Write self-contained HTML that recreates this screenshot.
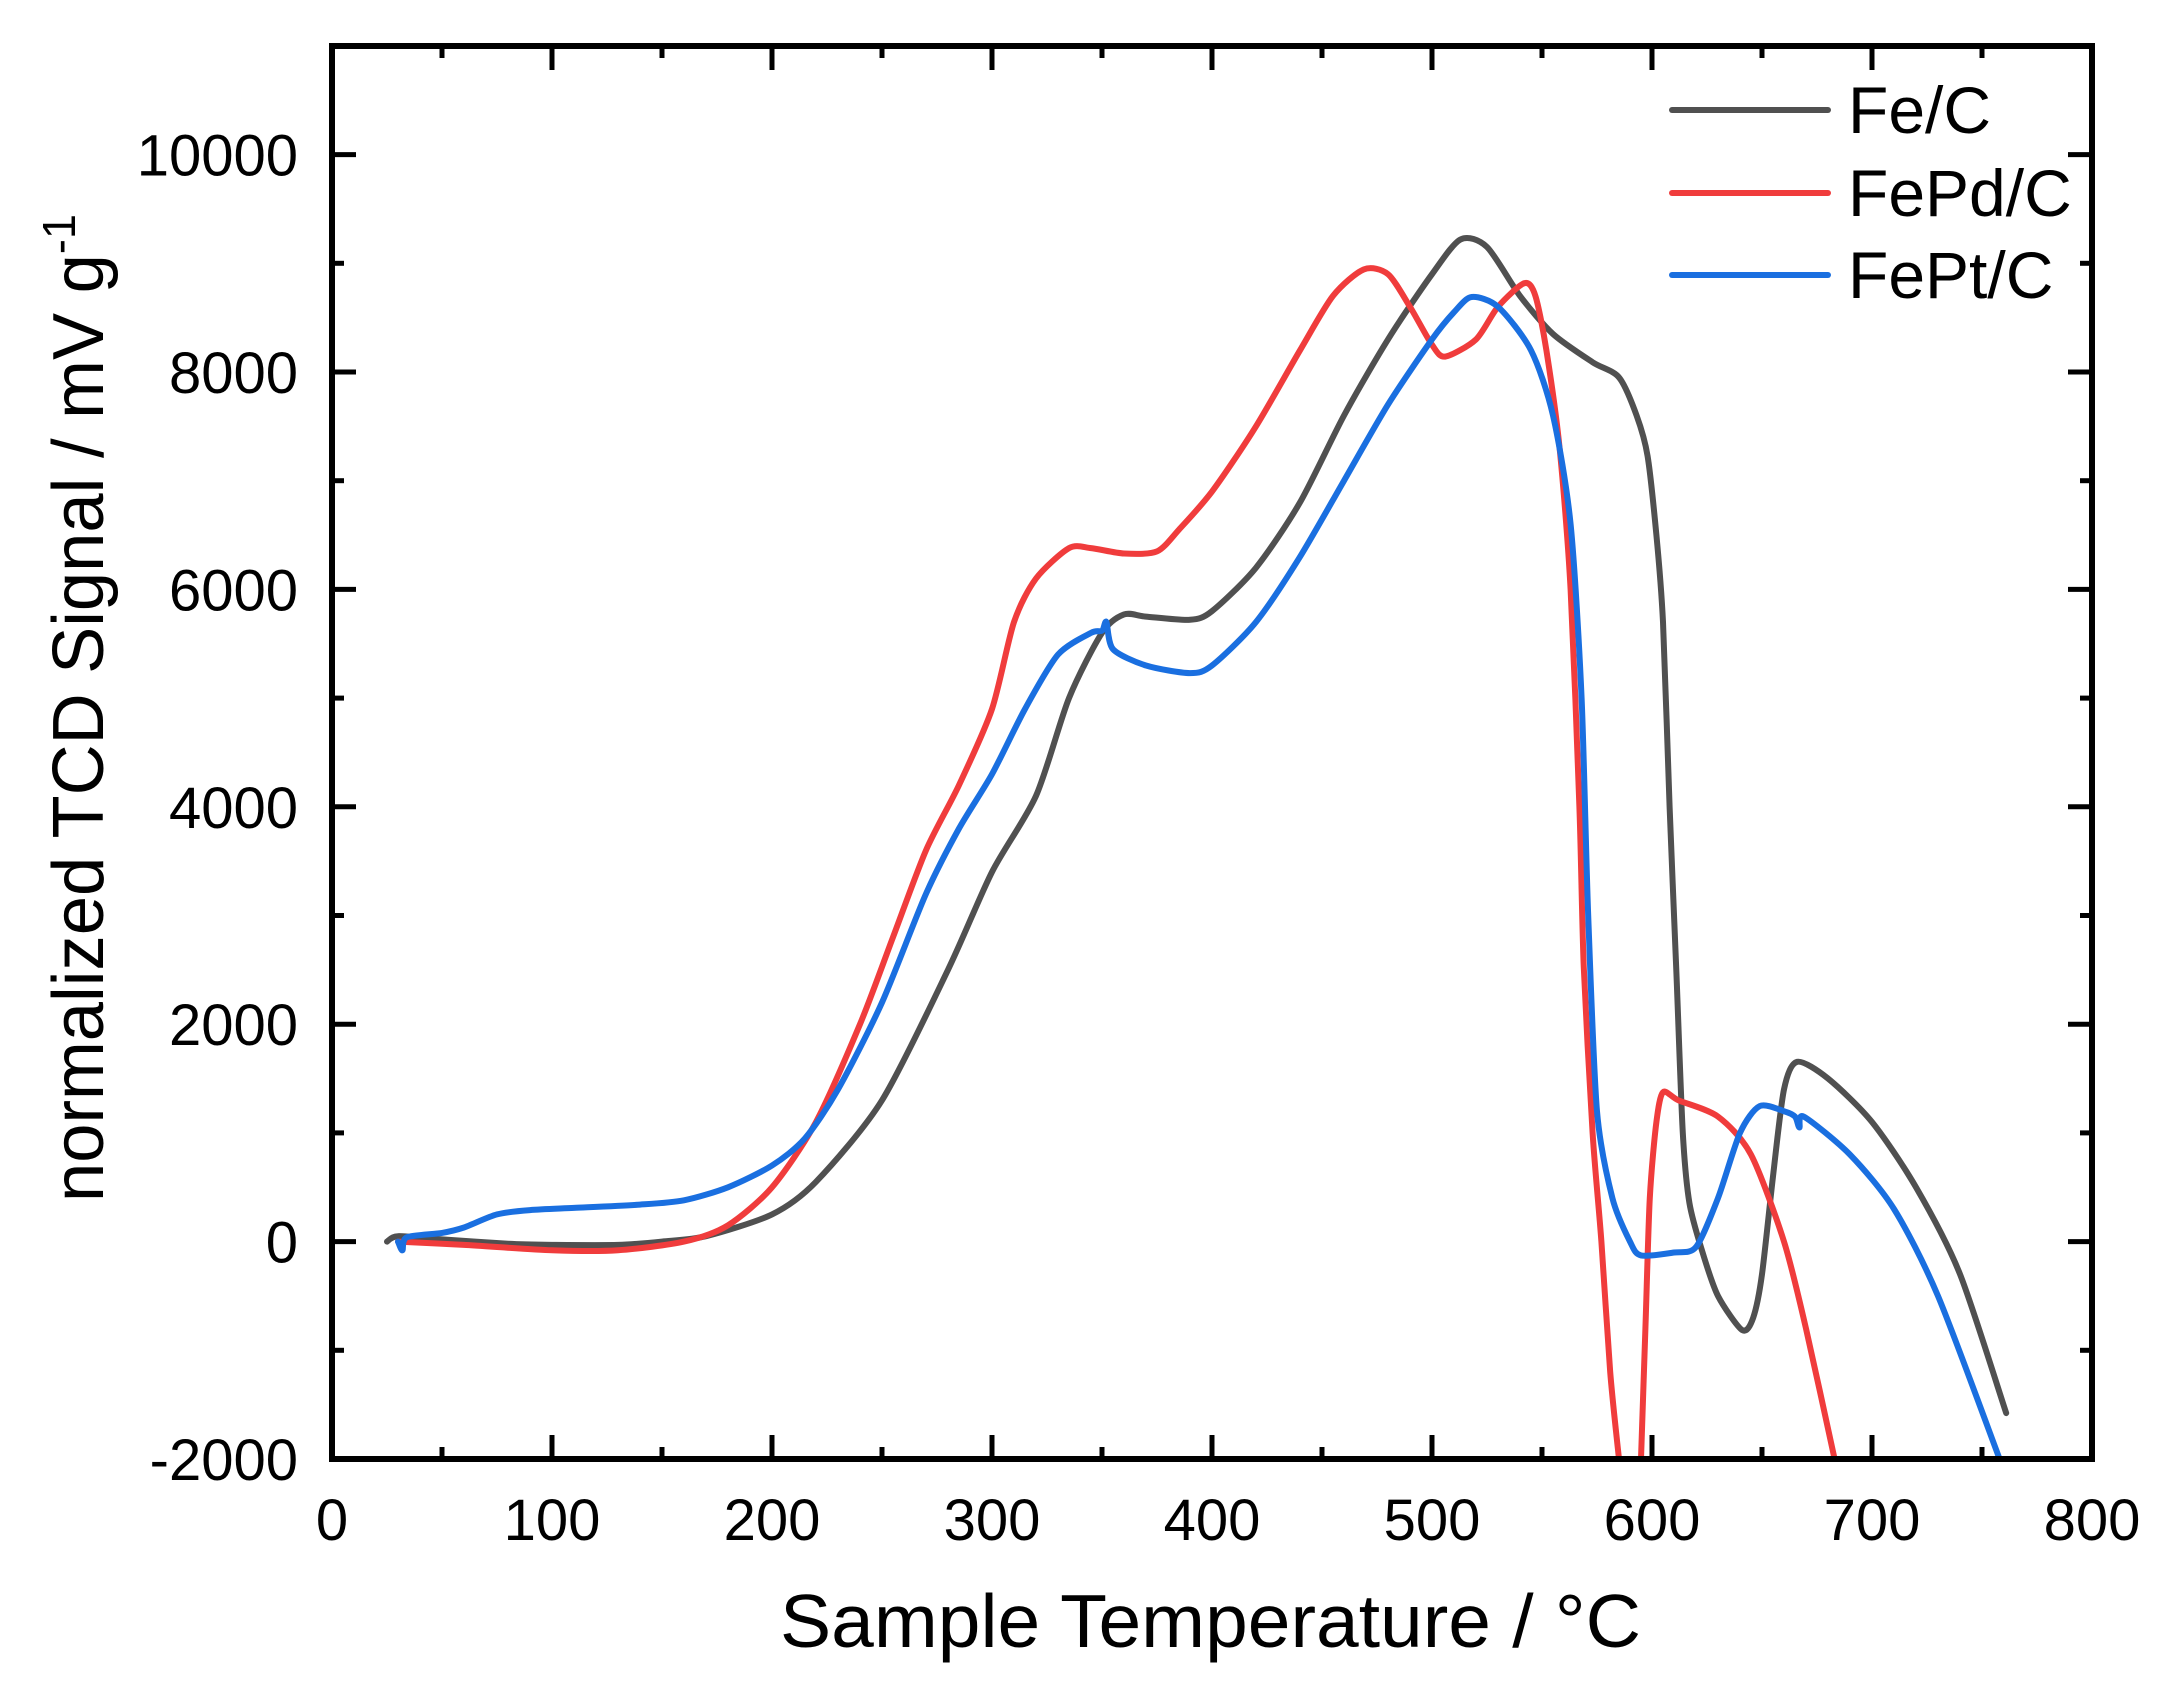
<!DOCTYPE html>
<html><head><meta charset="utf-8"><style>
html,body{margin:0;padding:0;background:#fff;}
svg{display:block;font-family:"Liberation Sans",Arial,sans-serif;}
</style></head><body>
<svg id="s" width="2168" height="1691" viewBox="0 0 2168 1691" xmlns="http://www.w3.org/2000/svg">
<rect width="2168" height="1691" fill="#fff"/>
<g id="curves" fill="none" stroke-width="6" stroke-linejoin="round" stroke-linecap="round"></g>
<g id="ticks" stroke="#000" stroke-width="5"></g>
<rect x="332" y="46" width="1760" height="1413" fill="none" stroke="#000" stroke-width="6"/>
<g id="labels" font-size="58" fill="#000"></g>
<text x="780" y="1647" font-size="75" textLength="861" lengthAdjust="spacingAndGlyphs">Sample Temperature  /  °C</text>
<text transform="translate(103,1202) rotate(-90)" font-size="72" textLength="988" lengthAdjust="spacingAndGlyphs">normalized TCD Signal  /  mV g<tspan dy="-28" font-size="46">-1</tspan></text>
<g stroke-width="6" stroke-linecap="round">
<line x1="1672" y1="110" x2="1828" y2="110" stroke="#505050"/>
<line x1="1672" y1="193" x2="1828" y2="193" stroke="#f03c3c"/>
<line x1="1672" y1="275" x2="1828" y2="275" stroke="#1a6fe0"/>
</g>
<g font-size="66" fill="#000">
<text x="1848" y="133">Fe/C</text>
<text x="1848" y="216">FePd/C</text>
<text x="1848" y="298">FePt/C</text>
</g>
</svg>
<script>
const X=t=>332+2.2*t, Y=v=>1459-(v+2000)*0.1087;
const NS="http://www.w3.org/2000/svg";
const tk=document.getElementById("ticks"), lb=document.getElementById("labels");
function ln(x1,y1,x2,y2){const l=document.createElementNS(NS,"line");l.setAttribute("x1",x1);l.setAttribute("y1",y1);l.setAttribute("x2",x2);l.setAttribute("y2",y2);tk.appendChild(l);}
function tx(x,y,s,a){const t=document.createElementNS(NS,"text");t.setAttribute("x",x);t.setAttribute("y",y);t.setAttribute("text-anchor",a);t.textContent=s;lb.appendChild(t);}
for(let t=0;t<=800;t+=50){const x=X(t),L=(t%100==0)?24:12;ln(x,1459,x,1459-L);ln(x,46,x,46+L);if(t%100==0)tx(x,1540,String(t),"middle");}
for(let v=-2000;v<=11000;v+=1000){const y=Y(v),L=(v%2000==0)?24:12;ln(332,y,332+L,y);ln(2092,y,2092-L,y);if(v%2000==0&&v<=10000)tx(298,y+21,String(v),"end");}
const fe=[[25,0],[30,50],[50,20],[80,-20],[100,-30],[130,-30],[150,0],[170,50],[200,250],[220,550],[250,1300],[280,2500],[300,3400],[320,4100],[335,5000],[350,5600],[360,5770],[370,5750],[390,5720],[400,5800],[420,6200],[440,6800],[460,7600],[480,8300],[500,8900],[513,9220],[525,9150],[540,8700],[555,8350],[573,8090],[585,7950],[593,7600],[598,7226],[602,6500],[605,5700],[608,4000],[611,2519],[614,1000],[617,356],[623,-100],[630,-500],[641,-814],[646,-700],[650,-300],[655,600],[660,1400],[666,1654],[680,1500],[700,1100],[720,500],[740,-300],[761,-1578]];
const pd=[[30,0],[60,-30],[100,-80],[130,-80],[160,0],[180,150],[200,500],[220,1100],[240,2000],[255,2800],[270,3600],[285,4200],[300,4900],[310,5700],[320,6100],[335,6380],[345,6380],[360,6330],[375,6350],[385,6550],[400,6900],[420,7500],[440,8200],[455,8700],[469,8944],[480,8900],[490,8600],[500,8250],[506,8142],[520,8300],[530,8600],[542,8817],[547,8700],[552,8200],[558,7300],[563,6000],[567,4000],[569,2519],[573,1000],[577,0],[581,-1200],[585,-2000]];
const pd2=[[595,-2000],[597,-800],[599,400],[602,1100],[605,1374],[612,1300],[630,1150],[645,800],[660,0],[670,-800],[683,-2000]];
const pt=[[30,0],[32,-80],[34,40],[50,80],[60,130],[75,250],[90,290],[110,310],[140,340],[160,380],[180,500],[200,700],[215,950],[230,1400],[250,2200],[270,3200],[285,3800],[300,4300],[315,4900],[330,5400],[345,5600],[350,5620],[352,5700],[355,5450],[370,5300],[390,5230],[400,5300],[420,5700],[440,6300],[460,7000],[480,7700],[500,8300],[510,8550],[518,8690],[530,8600],[545,8200],[555,7600],[563,6600],[568,5000],[571,3000],[575,1200],[582,400],[590,0],[595,-127],[610,-100],[620,-50],[630,400],[640,1000],[649,1247],[660,1200],[665,1150],[667,1050],[669,1150],[690,800],[710,300],[730,-500],[758,-2000]];
const g=document.getElementById("curves");
function add(d,c){const P=d.map(q=>[X(q[0]),Y(q[1])]);let s="M"+P[0][0].toFixed(1)+","+P[0][1].toFixed(1);
for(let i=0;i<P.length-1;i++){const p0=P[Math.max(i-1,0)],p1=P[i],p2=P[i+1],p3=P[Math.min(i+2,P.length-1)],k=1/6*0.8;
s+=" C"+(p1[0]+(p2[0]-p0[0])*k).toFixed(1)+","+(p1[1]+(p2[1]-p0[1])*k).toFixed(1)+" "+(p2[0]-(p3[0]-p1[0])*k).toFixed(1)+","+(p2[1]-(p3[1]-p1[1])*k).toFixed(1)+" "+p2[0].toFixed(1)+","+p2[1].toFixed(1);}
const p=document.createElementNS(NS,"path");p.setAttribute("d",s);p.setAttribute("stroke",c);g.appendChild(p);}
const cp=document.createElementNS(NS,"clipPath");cp.id="c";const r=document.createElementNS(NS,"rect");r.setAttribute("x",332);r.setAttribute("y",46);r.setAttribute("width",1760);r.setAttribute("height",1413);cp.appendChild(r);document.getElementById("s").appendChild(cp);g.setAttribute("clip-path","url(#c)");
add(fe,"#505050");add(pd,"#f03c3c");add(pd2,"#f03c3c");add(pt,"#1a6fe0");
</script>
</body></html>
